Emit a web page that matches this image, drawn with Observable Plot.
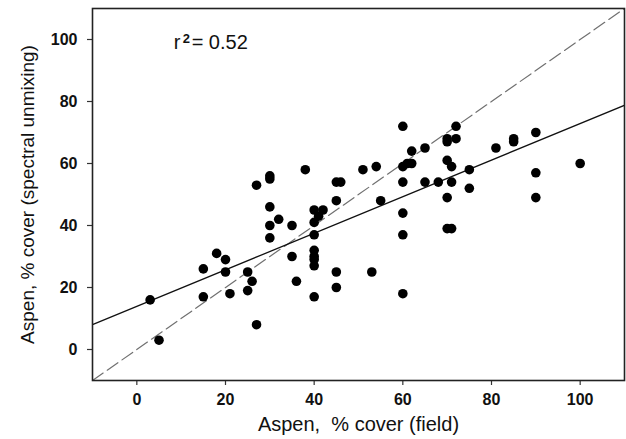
<!DOCTYPE html>
<html>
<head>
<meta charset="utf-8">
<script src="https://cdn.jsdelivr.net/npm/d3@7"></script>
<script src="https://cdn.jsdelivr.net/npm/@observablehq/plot@0.6"></script>
<style>
  html, body { margin: 0; padding: 0; background: #fff; }
  #chart svg { display: block; }
</style>
</head>
<body>
<div id="chart"></div>
<script>
// Field-measured aspen cover (%)
const fieldCover = [3, 5, 15, 15, 18, 20, 20, 21, 25, 25, 26, 27, 27, 30, 30, 30, 30, 30, 32, 35, 35, 36, 38,
  40, 41, 42, 40, 40, 40, 40, 40, 40, 40, 45, 46, 45, 45, 45, 51, 53, 54, 55,
  60, 60, 61, 62, 60, 60, 60, 60, 62, 65, 65, 68, 70, 70, 70, 70, 70, 71, 71, 71, 72, 72,
  75, 75, 81, 85, 85, 90, 90, 90, 100];
// Spectral-unmixing aspen cover (%)
const unmixCover = [16, 3, 26, 17, 31, 29, 25, 18, 25, 19, 22, 53, 8, 56, 55, 46, 40, 36, 42, 40, 30, 22, 58,
  45, 43, 45, 41, 37, 32, 30, 29, 27, 17, 54, 54, 48, 25, 20, 58, 25, 59, 48,
  72, 59, 60, 60, 54, 44, 37, 18, 64, 65, 54, 54, 68, 67, 61, 49, 39, 39, 59, 54, 72, 68,
  58, 52, 65, 68, 67, 70, 57, 49, 60];

const xTicks = [0, 20, 40, 60, 80, 100];
const yTicks = [0, 20, 40, 60, 80, 100];
const axisDomain = [-10, 110];

// Fitted regression line and its r²
const fitIntercept = 13.9;
const fitSlope = 0.59;
const r2Value = "0.52";
const r2Anchor = [{x: 8.3, y: 96.9}];

const xLabel = "Aspen,\u00a0 % cover (field)";
const yLabel = "Aspen, % cover (spectral unmixing)";

const points = fieldCover.map((x, i) => ({x, y: unmixCover[i]}));
const oneToOne = axisDomain.map(v => ({x: v, y: v}));
const fitLine = axisDomain.map(v => ({x: v, y: fitIntercept + fitSlope * v}));

const chart = Plot.plot({
  width: 626,
  height: 439,
  marginLeft: 92,
  marginRight: 2,
  marginTop: 8,
  marginBottom: 59,
  style: {fontFamily: '"Liberation Sans", Arial, sans-serif', background: "#fff", color: "#111"},
  x: {domain: axisDomain},
  y: {domain: axisDomain},
  marks: [
    Plot.axisX({ticks: xTicks, tickSize: 5, tickPadding: 8, fontSize: 16, fontWeight: "bold",
      label: null, stroke: "#333", fill: "#111", strokeWidth: 1.2}),
    Plot.axisY({ticks: yTicks, tickSize: 5, tickPadding: 10, fontSize: 16, fontWeight: "bold",
      label: null, stroke: "#333", fill: "#111", strokeWidth: 1.2}),
    Plot.line(oneToOne, {x: "x", y: "y", stroke: "#707070", strokeWidth: 1.2, strokeDasharray: "13,5", clip: true}),
    Plot.line(fitLine, {x: "x", y: "y", stroke: "#111", strokeWidth: 1.3, clip: true}),
    Plot.dot(points, {x: "x", y: "y", r: 4.8, fill: "#000", stroke: null}),
    Plot.frame({stroke: "#222", strokeWidth: 1.6}),
    Plot.text(r2Anchor, {x: "x", y: "y", text: () => "r", textAnchor: "start", lineAnchor: "bottom", fontSize: 20, fill: "#111"}),
    Plot.text(r2Anchor, {x: "x", y: "y", text: () => "2", textAnchor: "start", lineAnchor: "bottom", fontSize: 13, fontWeight: "bold", dx: 9, dy: -6, fill: "#111"}),
    Plot.text(r2Anchor, {x: "x", y: "y", text: () => "= " + r2Value, textAnchor: "start", lineAnchor: "bottom", fontSize: 20, dx: 18, fill: "#111"}),
    Plot.text([xLabel], {frameAnchor: "bottom", text: d => d, dy: 50, textAnchor: "middle", lineAnchor: "bottom", fontSize: 20, fill: "#111"}),
    Plot.text([yLabel], {frameAnchor: "left", text: d => d, rotate: -90, dx: -59, textAnchor: "middle", lineAnchor: "bottom", fontSize: 19, fill: "#111"})
  ]
});

document.getElementById("chart").appendChild(chart);
</script>
</body>
</html>
